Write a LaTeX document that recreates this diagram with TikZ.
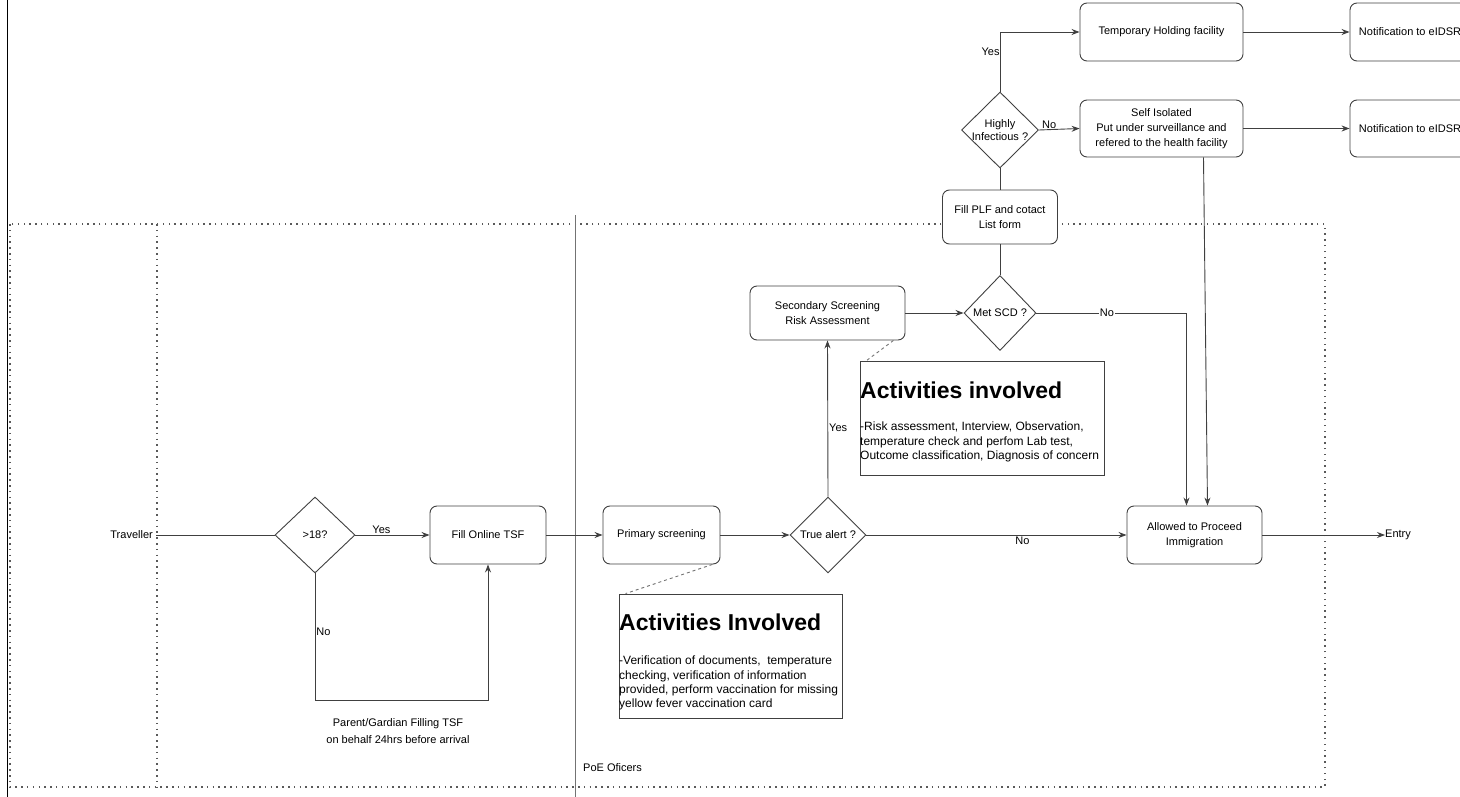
\documentclass[tikz,border=0pt]{standalone}
\usepackage{fontspec}
\setmainfont{Liberation Sans}
\usetikzlibrary{shapes.geometric,arrows.meta,calc}
\begin{document}
\begin{tikzpicture}[x=1pt,y=-1pt,
 box/.style={draw=black!75, line width=0.9pt, rounded corners=7pt, fill=white, minimum width=#1, minimum height=58pt, align=center, font=\fontsize{11}{15}\selectfont, inner sep=2pt},
 box/.default=116pt,
 dia/.style={draw=black!75, line width=0.9pt, diamond, fill=white, minimum width=80pt, minimum height=76pt, inner sep=0pt},
 lbl/.style={font=\fontsize{11}{13}\selectfont, inner sep=1pt, align=center},
 arr/.style={draw=black!75, line width=0.9pt, -{Stealth[length=8pt,width=6pt]}},
 ln/.style={draw=black!75, line width=0.9pt},
 dots/.style={draw=black!65, line width=1.5pt, dash pattern=on 1.5pt off 4.3pt},
 note/.style={draw=black!75, line width=0.9pt, rectangle, inner sep=0pt, fill=white},
 notehead/.style={anchor=base west, inner sep=0pt, font=\bfseries\fontsize{23}{26}\selectfont},
 notebody/.style={anchor=north west, inner sep=0pt, align=left, font=\fontsize{12}{14.3}\selectfont},
]
\useasboundingbox (0,0) rectangle (1460,797);
\clip (0,0) rectangle (1460,797);

% lanes
\draw[black, line width=1pt] (7,0) -- (7,797);
\draw[dots] (10,224) rectangle (1325,787);
\draw[dots] (157,224) -- (157,787);
\draw[black!55, line width=1pt] (575,215) -- (575,797);

% nodes
\node[lbl, anchor=east, inner sep=3pt] (trav) at (156,535) {Traveller};
\node[dia] (d18) at (315,535) {};
\node[lbl] (d18t) at (d18.center) {>18?};
\node[box=116pt] (tsf) at (488,535) {Fill Online TSF};
\node[box=117pt] (prim) at (661.5,535) {Primary screening};
\node[dia, minimum width=76pt] (dtrue) at (828,535) {};
\node[lbl] (dtruet) at (dtrue.center) {True alert ?};
\node[box=135pt] (allow) at (1194.5,535) {Allowed to Proceed\\Immigration};
\node[lbl, anchor=west, inner sep=0pt] (entry) at (1385,535) {Entry};
\node[box=155pt, minimum height=54pt] (sec) at (827.5,313) {Secondary Screening\\Risk Assessment};
\node[dia, minimum width=72pt, minimum height=75pt] (dscd) at (1000,313) {};
\node[lbl] (dscdt) at (dscd.center) {Met SCD ?};
\node[box=115pt, minimum height=54pt] (plf) at (1000,217) {Fill PLF and cotact\\List form};
\node[dia, minimum width=77pt, minimum height=76pt] (dhi) at (1000,130) {};
\node[lbl] (dhit) at (dhi.center) {Highly\\Infectious ?};
\node[box=163pt] (thf) at (1161.5,32) {Temporary Holding facility};
\node[box=163pt, minimum height=57pt] (self) at (1161.5,128.5) {Self Isolated\\Put under surveillance and\\refered to the health facility};
\node[box=120pt] (not1) at (1410,32) {Notification to eIDSR};
\node[box=120pt, minimum height=57pt] (not2) at (1410,128.5) {Notification to eIDSR};
\node[lbl, anchor=west] (poe) at (582,768) {PoE Oficers};
\node[lbl, font=\fontsize{11}{17}\selectfont] (par) at (398,731) {Parent/Gardian Filling TSF\\on behalf 24hrs before arrival};

% activity notes
\node[note, minimum width=223pt, minimum height=124pt] (act1) at (730.5,656) {};
\node[notehead] (act1h) at (619,630) {Activities Involved};
\node[notebody] (act1b) at (619,656) {-Verification of documents,~~temperature\\checking, verification of information\\provided, perform vaccination for missing\\yellow fever vaccination card};
\node[note, minimum width=244pt, minimum height=114pt] (act2) at (982,418) {};
\node[notehead] (act2h) at (860,398) {Activities involved};
\node[notebody] (act2b) at (860,422) {-Risk assessment, Interview, Observation,\\temperature check and perfom Lab test,\\Outcome classification, Diagnosis of concern};

\draw[ln, dashed, draw=black!55] ([xshift=-8pt]prim.south east) -- ([xshift=7pt]act1.north west);
\draw[ln, dashed, draw=black!55] ([xshift=-12pt]sec.south east) -- ([xshift=7pt]act2.north west);

% connectors
\draw[ln] (trav.east) -- (d18.west);
\draw[arr] (d18.east) -- node[lbl, above, pos=0.35] (yes1) {Yes} (tsf.west);
\draw[arr] (d18.south) -- node[lbl, anchor=west, pos=0.46] (no1) {No} (d18.south |- 0,700) -| (tsf.south);
\draw[arr] (tsf.east) -- (prim.west);
\draw[arr] (prim.east) -- (dtrue.west);
\draw[arr] (dtrue.east) -- node[lbl, below, pos=0.6] (no2) {No} (allow.west);
\draw[arr] (dtrue.north) -- node[lbl, anchor=west, pos=0.44] (yes2) {Yes} (sec.south);
\draw[arr] (sec.east) -- (dscd.west);
\draw[arr] (dscd.east) -- node[lbl, fill=white, pos=0.47] (no3) {No} ([xshift=-8pt]allow.north |- dscd.east) -- ([xshift=-8pt]allow.north);
\draw[ln] (dscd.north) -- (plf.south);
\draw[ln] (plf.north) -- (dhi.south);
\draw[arr] (dhi.north) |- node[lbl, anchor=east, inner sep=0pt, pos=0.33] (yes3) {Yes} (thf.west);
\draw[arr] (dhi.east) -- node[lbl, above, pos=0.25] (no4) {No} (self.west);
\draw[arr] (thf.east) -- (not1.west);
\draw[arr] (self.east) -- (not2.west);
\draw[arr] ([xshift=42pt]self.south) -- ([xshift=13pt]allow.north);
\draw[arr] (allow.east) -- (entry.west);
\end{tikzpicture}
\end{document}
